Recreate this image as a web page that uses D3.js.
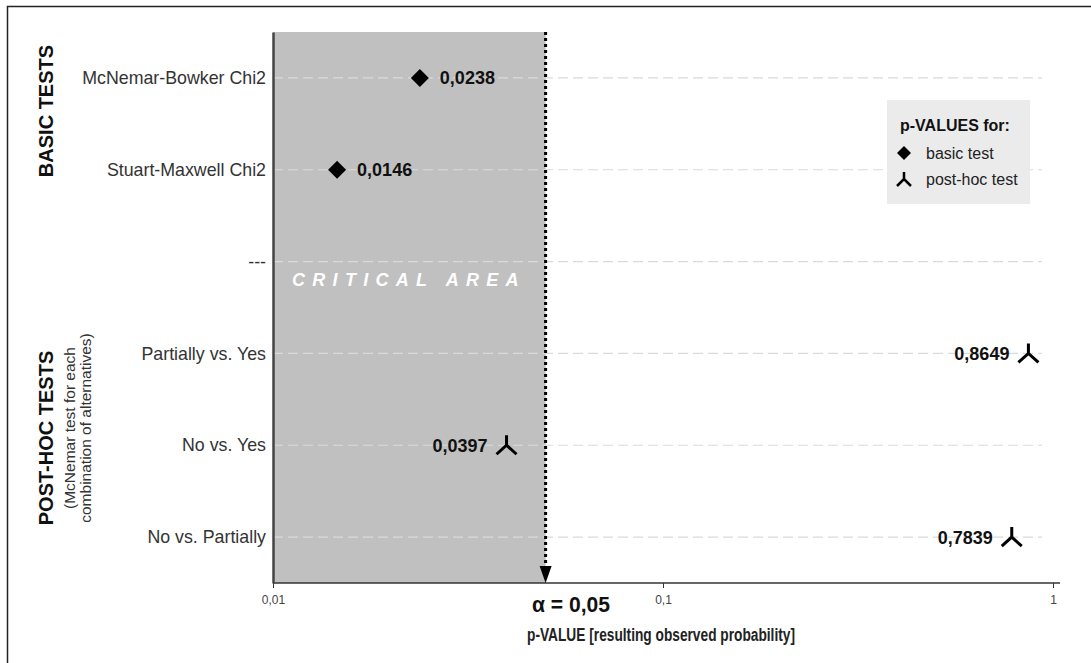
<!DOCTYPE html>
<html><head><meta charset="utf-8">
<script src="https://cdn.jsdelivr.net/npm/d3@7"></script>
<style>
body{margin:0;background:#fff;}
svg{display:block;font-family:"Liberation Sans",Arial,sans-serif;}
</style></head>
<body><svg id="chart" width="1091" height="663"></svg>
<script>
const categories = ["McNemar-Bowker Chi2","Stuart-Maxwell Chi2","---","Partially vs. Yes","No vs. Yes","No vs. Partially"];
const basicNames = ["McNemar-Bowker Chi2","Stuart-Maxwell Chi2"];
const basicValues = [0.0238, 0.0146];
const basicLabels = ["0,0238","0,0146"];
const postNames = ["Partially vs. Yes","No vs. Yes","No vs. Partially"];
const postValues = [0.8649, 0.0397, 0.7839];
const postLabels = ["0,8649","0,0397","0,7839"];
const xTicks = [0.01, 0.1, 1];
const xTickLabels = ["0,01","0,1","1"];
const alpha = 0.05;
const alphaLabel = "α = 0,05";

const svg = d3.select("#chart");
const L = 273, R = 1053, T = 32, B = 583;
const x = d3.scaleLog().domain([0.01, 1]).range([L, R]);
const y = d3.scalePoint().domain(categories).range([T, B]).padding(0.5);

// outer frame (left/top visible)
svg.append("rect").attr("x",7.5).attr("y",6.5).attr("width",1200).attr("height",800)
  .attr("fill","none").attr("stroke","#222").attr("stroke-width",1.5);

// critical area
svg.append("rect").attr("x",x(0.01)).attr("y",T).attr("width",x(alpha)-x(0.01)).attr("height",B-T)
  .attr("fill","#c0c0c0");

// gridlines
svg.append("g").selectAll("line").data(categories).join("line")
  .attr("x1",L).attr("x2",1042).attr("y1",d=>y(d)).attr("y2",d=>y(d))
  .attr("stroke","#dadada").attr("stroke-width",1.2).attr("stroke-dasharray","10,5");

// critical area text
svg.append("text").attr("x",292).attr("y",286)
  .attr("fill","#fff").attr("font-weight","bold").attr("font-style","italic")
  .attr("font-size",18).attr("letter-spacing",7.3).text("CRITICAL AREA");

// axes
const xAxis = d3.axisBottom(x).tickValues(xTicks).tickFormat((d,i)=>xTickLabels[i]).tickSize(5).tickSizeOuter(0);
const gx = svg.append("g").attr("transform",`translate(0,${B})`).call(xAxis);
gx.select(".domain").attr("stroke","#333").attr("stroke-width",1.5).attr("d",`M${L},0H1060`);
gx.selectAll(".tick line").attr("stroke","#333");
gx.selectAll(".tick text").attr("font-size",12).attr("fill","#444").attr("dy","1.1em");

const yAxis = d3.axisLeft(y).tickSize(0).tickPadding(7);
const gy = svg.append("g").attr("transform",`translate(${L},0)`).call(yAxis);
gy.select(".domain").attr("stroke","#444").attr("stroke-width",2.5);
gy.selectAll(".tick text").attr("font-size",17.8).attr("fill","#333").attr("font-family","'Liberation Sans',Arial,sans-serif");

// alpha dotted line + arrow
svg.append("line").attr("x1",x(alpha)).attr("x2",x(alpha)).attr("y1",T).attr("y2",B-14)
  .attr("stroke","#000").attr("stroke-width",3).attr("stroke-dasharray","3,3");
svg.append("path").attr("d",`M${x(alpha)-6},${B-17}L${x(alpha)+6},${B-17}L${x(alpha)},${B}Z`).attr("fill","#000");

svg.append("text").attr("x",532).attr("y",612)
  .attr("font-weight","bold").attr("font-size",22).attr("fill","#111")
  .attr("textLength",78).attr("lengthAdjust","spacingAndGlyphs").text(alphaLabel);

svg.append("text").attr("x",527).attr("y",641)
  .attr("font-weight","bold").attr("font-size",18).attr("fill","#222")
  .attr("textLength",268).attr("lengthAdjust","spacingAndGlyphs").text("p-VALUE [resulting observed probability]");

// basic markers
const diamond = "M0,-9L9,0L0,9L-9,0Z";
const basic = svg.append("g");
basic.selectAll("path").data(basicValues).join("path")
  .attr("transform",(d,i)=>`translate(${x(d)},${y(basicNames[i])})`).attr("d",diamond).attr("fill","#000");
basic.selectAll("text").data(basicValues).join("text")
  .attr("x",d=>x(d)+20).attr("y",(d,i)=>y(basicNames[i])).attr("dy","0.36em")
  .attr("font-weight","bold").attr("font-size",18).attr("fill","#111").text((d,i)=>basicLabels[i]);

// post-hoc markers
const tri = "M0,-11L0,-1M-10,8L0,-1L10,8";
const post = svg.append("g");
post.selectAll("path").data(postValues).join("path")
  .attr("transform",(d,i)=>`translate(${x(d)},${y(postNames[i])+1})`).attr("d",tri)
  .attr("fill","none").attr("stroke","#000").attr("stroke-width",3);
post.selectAll("text").data(postValues).join("text")
  .attr("x",d=>x(d)-19).attr("y",(d,i)=>y(postNames[i])).attr("dy","0.36em").attr("text-anchor","end")
  .attr("font-weight","bold").attr("font-size",18).attr("fill","#111").text((d,i)=>postLabels[i]);

// group titles
svg.append("text").attr("transform","translate(53,111) rotate(-90)").attr("text-anchor","middle")
  .attr("font-weight","bold").attr("font-size",20).attr("fill","#111").text("BASIC TESTS");
svg.append("text").attr("transform","translate(53,438) rotate(-90)").attr("text-anchor","middle")
  .attr("font-weight","bold").attr("font-size",20).attr("fill","#111").text("POST-HOC TESTS");
svg.append("text").attr("transform","translate(75,428) rotate(-90)").attr("text-anchor","middle")
  .attr("font-size",15.5).attr("fill","#333").text("(McNemar test for each");
svg.append("text").attr("transform","translate(91,428) rotate(-90)").attr("text-anchor","middle")
  .attr("font-size",15.5).attr("fill","#333").text("combination of alternatives)");

// legend
const lg = svg.append("g").attr("transform","translate(887,100)");
lg.append("rect").attr("width",143).attr("height",104).attr("fill","#ebebeb");
lg.append("text").attr("x",13).attr("y",31).attr("font-weight","bold").attr("font-size",16).attr("fill","#111").text("p-VALUES for:");
lg.append("path").attr("transform","translate(17,53)").attr("d","M0,-7L7,0L0,7L-7,0Z").attr("fill","#000");
lg.append("text").attr("x",39).attr("y",53).attr("dy","0.36em").attr("font-size",16).attr("fill","#222").text("basic test");
lg.append("path").attr("transform","translate(17,80)").attr("d","M0,-8L0,-1M-7,6L0,-1L7,6")
  .attr("fill","none").attr("stroke","#000").attr("stroke-width",2.5);
lg.append("text").attr("x",39).attr("y",79).attr("dy","0.36em").attr("font-size",16).attr("fill","#222").text("post-hoc test");
</script></body></html>
